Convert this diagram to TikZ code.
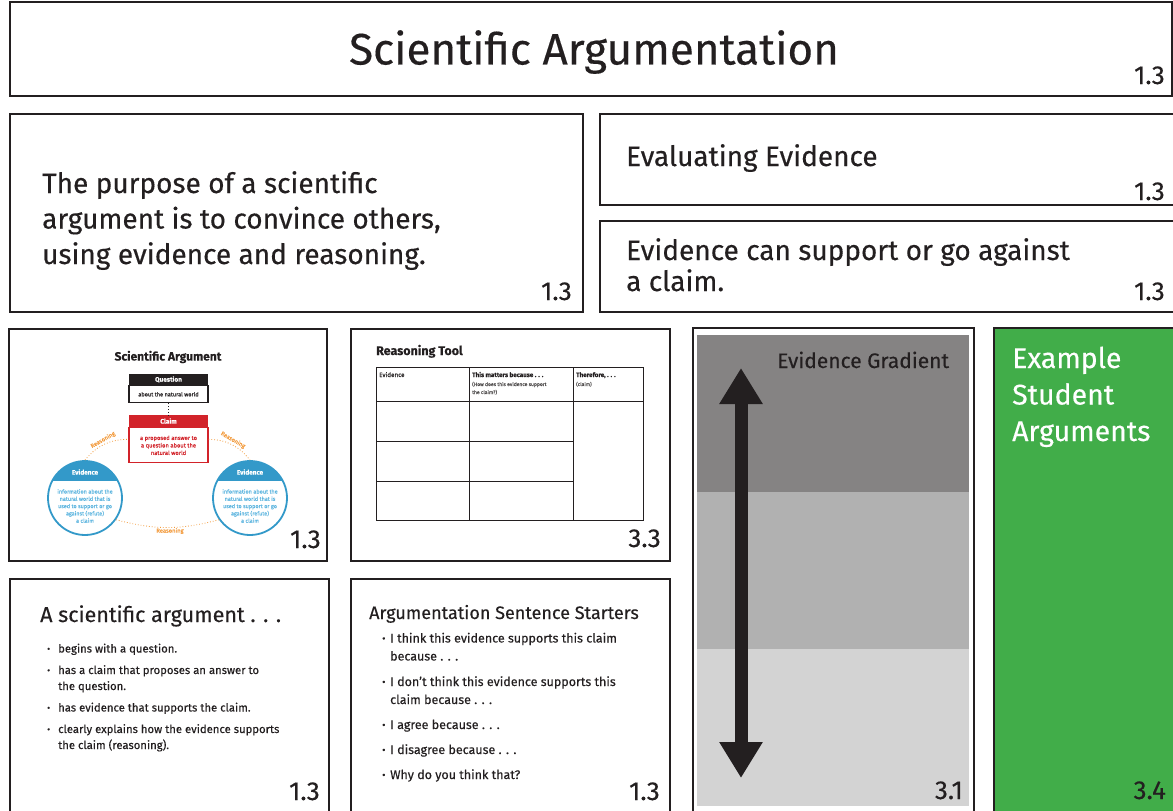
\documentclass[tikz,border=0pt]{standalone}
\usepackage{fontspec}
\setmainfont{Fira Sans}[FakeBold = 0.3]
\usetikzlibrary{positioning, arrows.meta}

\definecolor{inkblack}{HTML}{231F20}
\definecolor{claimred}{HTML}{D2232A}
\definecolor{evblue}{HTML}{3399C9}
\definecolor{evlight}{HTML}{5FB6E0}
\definecolor{reasonorange}{HTML}{F39A3B}
\definecolor{darkband}{HTML}{858383}
\definecolor{midband}{HTML}{B1B1B1}
\definecolor{lightband}{HTML}{D3D3D3}
\definecolor{studentgreen}{HTML}{41AD49}

\newcommand{\fs}[2]{\fontsize{#1}{#2}\selectfont}
\newcommand{\bul}[1]{\makebox[#1][l]{\raisebox{0.1ex}{\scalebox{0.8}{\textbullet}}}}

\tikzset{
  panel/.style = {draw = inkblack, line width = 1.3pt},
  pagenum/.style = {anchor = base east, inner sep = 0pt, text = inkblack, font = \fs{26}{28}},
  bigtext/.style = {anchor = base west, inner sep = 0pt, align = left, text = inkblack, font = \fs{28}{35.5}},
  headbox/.style = {minimum width = 79pt, minimum height = 11pt, inner sep = 0pt, text = white, font = \bfseries\fs{6.5}{8}},
  bodybox/.style = {minimum width = 79pt, inner sep = 0pt, align = center, line width = 1.2pt},
  evcircle/.style = {circle, draw = evblue, line width = 1.8pt, minimum size = 74pt, inner sep = 0pt,
    path picture = {\fill [evblue] (path picture bounding box.north west) rectangle ([yshift = -20pt]path picture bounding box.north east);}},
  reason/.style = {draw = reasonorange, line width = 0.8pt, dotted},
  reasonlabel/.style = {text = reasonorange, inner sep = 0pt, font = \fs{5.8}{7}},
  gridline/.style = {draw = inkblack, line width = 0.9pt},
  listtext/.style = {anchor = base west, inner sep = 0pt, align = left, text = inkblack}
}

\begin{document}
\begin{tikzpicture}[x = 1pt, y = -1pt]
  \useasboundingbox (0, 0) rectangle (1173, 811);
  \fill [white] (0, 0) rectangle (1173, 811);

  % top row
  \draw [panel] (10, 2) rectangle (1172, 96);
  \node [text = inkblack, font = \fs{44}{48}] (title) at (594, 52) {Scientific Argumentation};
  \node [pagenum] (title num) at (1165, 84) {1.3};

  \draw [panel] (10, 114) rectangle (583, 312);
  \node [bigtext] (purpose) at (42, 264) {The purpose of a scientific\\argument is to convince others,\\using evidence and reasoning.};
  \node [pagenum] (purpose num) at (572, 300) {1.3};

  \draw [panel] (600, 114) rectangle (1175, 205);
  \node [bigtext] (evaluating) at (626, 166) {Evaluating Evidence};
  \node [pagenum] (evaluating num) at (1165, 200) {1.3};

  \draw [panel] (600, 221) rectangle (1175, 312);
  \node [bigtext, font = \fs{28}{31}] (support) at (626, 291) {Evidence can support or go against\\a claim.};
  \node [pagenum] (support num) at (1165, 300) {1.3};

  % scientific argument slide
  \draw [panel] (9, 329) rectangle (327, 561);
  \node [text = inkblack, font = \bfseries\fs{12}{14}] (sa title) at (168, 357) {Scientific Argument};
  \node [headbox, fill = inkblack] (question head) at (168.5, 379.5) {Question};
  \node [bodybox, draw = inkblack, minimum height = 17pt, text = inkblack, font = \fs{5.6}{7}, below = 0pt of question head] (question body) {about the natural world};
  \node [headbox, fill = claimred, minimum height = 12pt] (claim head) at (168.5, 421) {Claim};
  \node [bodybox, draw = claimred, minimum height = 35pt, text = claimred, font = \fs{5.8}{7.5}, below = 0pt of claim head] (claim body) {a proposed answer to\\a question about the\\natural world};
  \draw [inkblack, line width = 0.8pt, dotted] (question body) -- (claim head);

  \node [evcircle] (ev left) at (85, 498) {};
  \node [evcircle] (ev right) at (250, 498) {};
  \foreach \side/\cx in {left/85, right/250} {
    \node [text = white, font = \bfseries\fs{6.5}{8}] (ev \side\space head) at (\cx, 472) {Evidence};
    \node [text = evlight, align = center, font = \fs{5.5}{7.3}] (ev \side\space text) at (\cx, 506) {information about the\\natural world that is\\used to support or go\\against (refute)\\a claim};
  }
  \draw [reason] (ev left.north) to [bend left = 25] ([yshift = 6pt]claim body.west);
  \draw [reason] ([yshift = 6pt]claim body.east) to [bend left = 25] (ev right.north);
  \draw [reason] (ev left.-35) to [bend right = 15] (ev right.215);
  \node [reasonlabel, rotate = 30] (reason left) at (103, 440) {Reasoning};
  \node [reasonlabel, rotate = -30] (reason right) at (233, 440) {Reasoning};
  \node [reasonlabel] (reason bottom) at (170, 531) {Reasoning};
  \node [pagenum] (sa num) at (321, 548) {1.3};

  % reasoning tool slide
  \draw [panel] (351, 329) rectangle (670, 561);
  \node [listtext, font = \bfseries\fs{12.5}{14}] (rt title) at (376, 355) {Reasoning Tool};
  \draw [gridline] (376, 367) rectangle (643, 520);
  \draw [gridline] (469, 367) -- (469, 520);
  \draw [gridline] (573, 367) -- (573, 520);
  \draw [gridline] (376, 401) -- (643, 401);
  \foreach \row in {441, 481} {
    \draw [gridline] (376, \row) -- (573, \row);
  }
  \node [listtext, font = \fs{6.3}{8}] (col evidence) at (379, 377) {Evidence};
  \node [listtext, font = \bfseries\fs{6.3}{8}] (col matters) at (472, 377) {This matters because . . .};
  \node [listtext, font = \fs{5}{8}, text = inkblack!80] (col matters note) at (472, 394) {(How does this evidence support\\the claim?)};
  \node [listtext, font = \bfseries\fs{6.3}{8}] (col therefore) at (576, 377) {Therefore, . . .};
  \node [listtext, font = \fs{5}{8}, text = inkblack!80] (col therefore note) at (576, 386) {(claim)};
  \node [pagenum] (rt num) at (661, 547) {3.3};

  % a scientific argument slide
  \draw [panel] (10, 579) rectangle (329, 815);
  \node [listtext, font = \fs{21.5}{24}] (arg title) at (40, 622) {A scientific argument . . .};
  \node [listtext, font = \fs{11.3}{16}] (arg list) at (47, 749)
    {\bul{11pt}begins with a question.\\[5.5pt]
     \bul{11pt}has a claim that proposes an answer to\\
     \hspace*{11pt}the question.\\[5.5pt]
     \bul{11pt}has evidence that supports the claim.\\[5.5pt]
     \bul{11pt}clearly explains how the evidence supports\\
     \hspace*{11pt}the claim (reasoning).};
  \node [pagenum] (arg num) at (320, 800) {1.3};

  % sentence starters slide
  \draw [panel] (351, 579) rectangle (670, 815);
  \node [listtext, font = \fs{18}{20}] (starter title) at (369, 619) {Argumentation Sentence Starters};
  \node [listtext, font = \fs{12.5}{18}] (starter list) at (382, 779)
    {\bul{8pt}I think this evidence supports this claim\\
     \hspace*{8pt}because . . .\\[7.5pt]
     \bul{8pt}I don't think this evidence supports this\\
     \hspace*{8pt}claim because . . .\\[7pt]
     \bul{8pt}I agree because . . .\\[7pt]
     \bul{8pt}I disagree because . . .\\[7pt]
     \bul{8pt}Why do you think that?};
  \node [pagenum] (starter num) at (660, 800) {1.3};

  % evidence gradient
  \draw [panel] (693, 328) rectangle (974, 815);
  \fill [darkband] (697, 335) rectangle (969, 492);
  \fill [midband] (697, 492) rectangle (969, 649);
  \fill [lightband] (697, 649) rectangle (969, 806);
  \node [listtext, font = \fs{21}{24}] (gradient title) at (777, 368) {Evidence Gradient};
  \coordinate (grad top) at (741, 368);
  \coordinate (grad bottom) at (741, 778);
  \draw [inkblack, line width = 13pt, {Triangle[width = 41pt, length = 36pt]}-{Triangle[width = 41pt, length = 36pt]}] (grad top) -- (grad bottom);
  \node [pagenum] (gradient num) at (963, 799) {3.1};

  % example student arguments
  \fill [studentgreen] (994, 328) rectangle (1175, 815);
  \draw [panel] (994, 328) rectangle (1175, 815);
  \node [bigtext, text = white, font = \fs{28.5}{36.5}] (student) at (1012, 441) {Example\\Student\\Arguments};
  \node [pagenum] (student num) at (1166, 799) {3.4};
\end{tikzpicture}
\end{document}
